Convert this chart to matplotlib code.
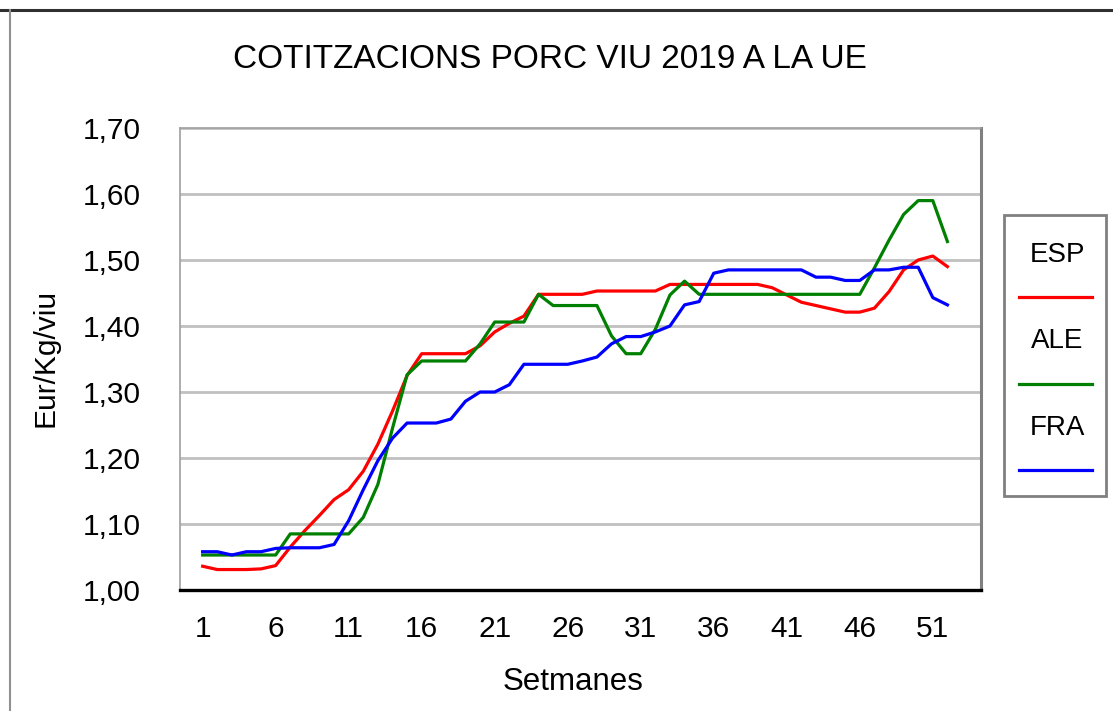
import matplotlib.pyplot as plt
from matplotlib.lines import Line2D
from matplotlib.ticker import FuncFormatter

plt.rcParams['font.family'] = ['Liberation Sans', 'DejaVu Sans']

# weekly live pig prices 2019 (EUR/kg live weight)
weeks = list(range(1, 53))
esp = [1.036, 1.031, 1.031, 1.031, 1.032, 1.037, 1.065, 1.090, 1.113, 1.137,
       1.152, 1.180, 1.221, 1.271, 1.325, 1.358, 1.358, 1.358, 1.358, 1.370,
       1.391, 1.404, 1.415, 1.448, 1.448, 1.448, 1.448, 1.453, 1.453, 1.453,
       1.453, 1.453, 1.463, 1.463, 1.463, 1.463, 1.463, 1.463, 1.463, 1.458,
       1.447, 1.436, 1.431, 1.426, 1.421, 1.421, 1.427, 1.452, 1.485, 1.500,
       1.506, 1.490]
ale = [1.053, 1.053, 1.053, 1.053, 1.053, 1.053, 1.085, 1.085, 1.085, 1.085,
       1.085, 1.110, 1.160, 1.245, 1.326, 1.347, 1.347, 1.347, 1.347, 1.373,
       1.406, 1.406, 1.406, 1.448, 1.431, 1.431, 1.431, 1.431, 1.385, 1.358,
       1.358, 1.395, 1.447, 1.468, 1.448, 1.448, 1.448, 1.448, 1.448, 1.448,
       1.448, 1.448, 1.448, 1.448, 1.448, 1.448, 1.488, 1.530, 1.569, 1.590,
       1.590, 1.528]
fra = [1.058, 1.058, 1.053, 1.058, 1.058, 1.063, 1.064, 1.064, 1.064, 1.069,
       1.105, 1.152, 1.196, 1.230, 1.253, 1.253, 1.253, 1.259, 1.286, 1.300,
       1.300, 1.311, 1.342, 1.342, 1.342, 1.342, 1.347, 1.353, 1.373, 1.384,
       1.384, 1.391, 1.400, 1.432, 1.437, 1.480, 1.485, 1.485, 1.485, 1.485,
       1.485, 1.485, 1.474, 1.474, 1.469, 1.469, 1.485, 1.485, 1.489, 1.489,
       1.443, 1.432]

names = ["ESP", "ALE", "FRA"]
colors = ["#FF0000", "#008000", "#0000FF"]
yticks = [1.00, 1.10, 1.20, 1.30, 1.40, 1.50, 1.60, 1.70]
xticks = list(range(1, 52, 5))

W, H = 1113, 711
fig = plt.figure(figsize=(W / 100, H / 100), dpi=100)
ax = fig.add_axes([180 / W, 1 - 590 / H, 801 / W, 462 / H])

for vals, name, c in zip([esp, ale, fra], names, colors):
    ax.plot(weeks, vals, color=c, lw=2.3, label=name, zorder=3)

ax.set_xlim(-0.55, 54.3)
ax.set_ylim(1.0, 1.7)
ax.set_yticks(yticks)
ax.set_xticks(xticks)
ax.yaxis.set_major_formatter(FuncFormatter(lambda v, p: f"{v:.2f}".replace(".", ",")))
ax.tick_params(axis="both", length=0, labelsize=21.5)
ax.tick_params(axis="y", pad=28)
ax.tick_params(axis="x", pad=18)
ax.grid(axis="y", color="#c0c0c0", lw=2.0, zorder=1)
ax.set_axisbelow(True)

for s in ["left", "top"]:
    ax.spines[s].set_color("#a0a0a0")
    ax.spines[s].set_linewidth(1.2)
ax.spines["right"].set_color("#808080")
ax.spines["right"].set_linewidth(2.2)
ax.spines["bottom"].set_color("black")
ax.spines["bottom"].set_linewidth(2.4)

fig.text(550 / W, 1 - 60 / H, "COTITZACIONS PORC VIU 2019 A LA UE",
         ha="center", va="center", fontsize=24)
fig.text(46 / W, 1 - 358 / H, "Eur/Kg/viu", rotation=90,
         ha="center", va="center", fontsize=21.5)
fig.text(573 / W, 1 - 682 / H, "Setmanes", ha="center", va="center", fontsize=22.5)

# outer chart frame (cropped)
fig.add_artist(Line2D([0, 1], [1 - 10 / H, 1 - 10 / H], color="#303030", lw=2.2))
fig.add_artist(Line2D([10 / W, 10 / W], [0, 1 - 10 / H], color="#909090", lw=1.5))

# legend box drawn as in the spreadsheet: name above its line
fig.add_artist(plt.Rectangle((1004 / W, 1 - 496 / H), 102 / W, 281 / H,
                             fill=False, edgecolor="#808080", lw=2.0))
for i, (name, c) in enumerate(zip(names, colors)):
    ty = 255 + i * 86.5
    ly = 297 + i * 86.5
    fig.text(1057 / W, 1 - ty / H, name, ha="center", va="center", fontsize=20)
    fig.add_artist(Line2D([1019 / W, 1092 / W], [1 - ly / H, 1 - ly / H], color=c, lw=2.3))

fig.savefig("out.png", dpi=100)
